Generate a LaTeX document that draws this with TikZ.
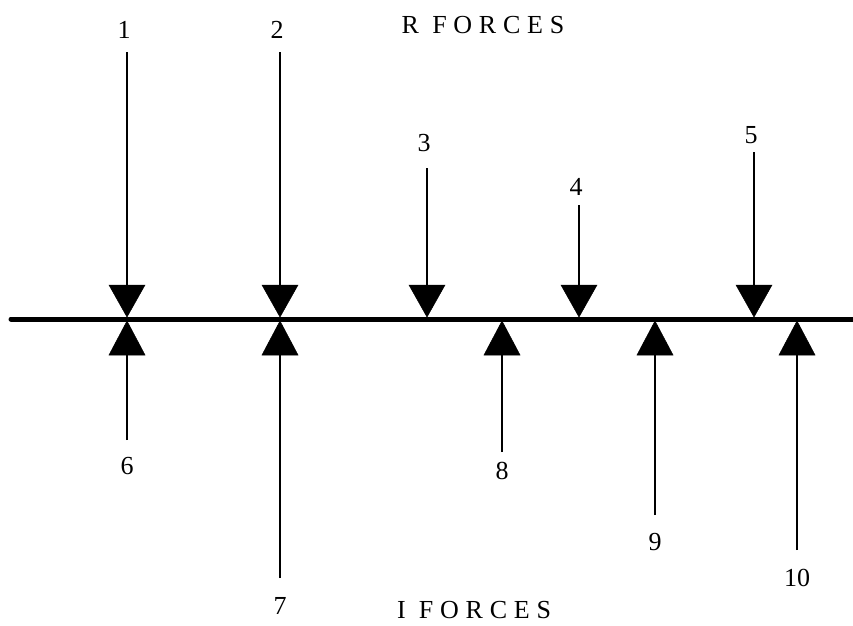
\documentclass[tikz,border=0pt]{standalone}
\usepackage{fontspec}
\setmainfont{Liberation Serif}
\newfontfamily\spaced[LetterSpace=26]{Liberation Serif}
\begin{document}
\begin{tikzpicture}[x=1pt,y=-1pt,
  shaft/.style={line width=2.6pt},
  head/.style={fill=black,draw=black,line width=0.5pt},
  lbl/.style={font=\fontsize{26}{26}\selectfont,inner sep=0pt},
  ttl/.style={font=\fontsize{26}{26}\selectfont\spaced,inner sep=0pt}]
\useasboundingbox (0,0) rectangle (853,625);
\fill[white] (0,0) rectangle (853,625);
% beam
\coordinate (bl) at (11,319);
\coordinate (br) at (853,319);
\draw[line width=5pt,line cap=round] (bl) -- (br);
% down arrows (R forces)
\foreach \n/\x/\t/\ly in {1/127/52/30, 2/280/52/30, 3/427/168/143, 4/579/205/187, 5/754/152/135}{
  \coordinate (d\n top) at (\x,\t);
  \coordinate (d\n tip) at (\x,317);
  \draw[shaft] (d\n top) -- (\x,290);
  \fill[head] (d\n tip) -- (\x-18,285) -- (\x+18,285) -- cycle;
  \node[lbl] (ld\n) at (\x-3,\ly) {\n};
}
% up arrows (I forces)
\foreach \n/\x/\b/\ly in {6/127/440/466, 7/280/578/606, 8/502/452/471, 9/655/515/542, 10/797/550/578}{
  \coordinate (u\n bot) at (\x,\b);
  \coordinate (u\n tip) at (\x,321);
  \draw[shaft] (u\n bot) -- (\x,350);
  \fill[head] (u\n tip) -- (\x-18,355) -- (\x+18,355) -- cycle;
  \node[lbl] (lu\n) at (\x,\ly) {\n};
}
\node[ttl] (rf) at (483,25) {R FORCES};
\node[ttl] (if) at (474,610) {I FORCES};
\end{tikzpicture}
\end{document}
